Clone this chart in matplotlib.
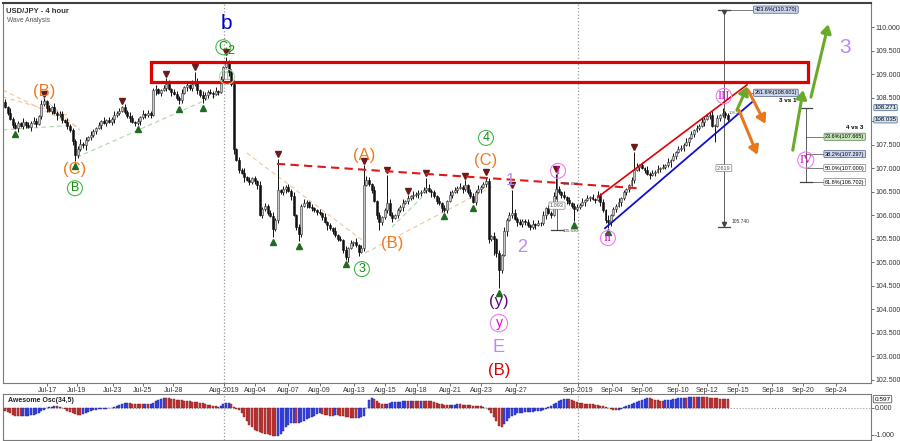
import numpy as np
import matplotlib
matplotlib.use('Agg')
import matplotlib.pyplot as plt
import matplotlib.transforms as mtransforms
from matplotlib.patches import Rectangle

plt.rcParams['font.family'] = ['Liberation Sans', 'DejaVu Sans']

# USD/JPY 4h closes, hundredths above 100.00 (830 -> 108.30)
closes_txt = """
830 818 805 792 786 795 790 798 792 788 796 800 794 810 836 842 828 822 830 818
812 815 802 798 790 780 758 728 740 752 748 760 766 770 778 785 792 800 796 802
798 805 812 818 822 830 820 810 806 798 795 800 808 815 812 818 813 865 868 860
866 870 878 868 862 858 850 845 860 872 876 870 878 885 866 855 848 856 862 860
858 864 862 890 915 926 905 878 740 717 696 690 680 675 670 678 672 664 600 612
620 605 598 570 590 653 648 655 660 652 640 600 575 560 620 625 627 618 614 610
606 604 595 585 578 572 565 557 550 547 525 510 530 540 542 536 522 530 664 674
665 653 630 600 585 595 610 625 600 594 600 610 618 626 630 636 640 642 645 647
650 653 658 652 648 640 630 625 615 610 630 643 650 653 658 660 655 664 650 640
628 650 655 660 665 672 550 555 548 520 483 515 565 590 600 604 592 585 581 588
585 578 574 580 579 583 582 600 615 605 600 640 655 648 643 638 632 625 620 612
618 622 628 632 636 638 634 632 643 628 610 590 585 600 612 620 628 636 648 655
664 675 696 702 706 700 695 688 685 690 692 697 700 703 706 712 717 725 734 740
743 750 755 764 772 780 786 790 798 805 810 813 790 790 806 812 818 812 804
"""
first_open = 108.40

# wick beyond the body, one digit per bar, units of 0.03
wick_up_txt = """
21312213121321321213 12213121231213212131 21312121321213121231
12131221312131213212 13121212312131212132 21231312121312132121
12131213121312131213 21312121321213121312 12131213121312131212
21312121312131213121 12131213121312131212 21312121312131213121
12131213121312131212 2131212131213121312
"""
wick_dn_txt = """
12121312213121213121 31212131212312121312 12312121312131212131
21213121213121312121 31212131212131212312 12131212313121213121
21213121212131213121 12131212131213121213 21213121312121213121
12131212131213121312 21213121312121213121 12131212131213121312
21213121312121213121 1213121213121312121
"""
spike_hi = {15: 108.47, 62: 108.91, 73: 109.04, 85: 109.36, 105: 107.20,
            138: 107.06, 147: 106.85, 162: 106.79, 177: 106.74, 185: 106.81,
            195: 106.53, 212: 106.87, 242: 107.34, 271: 108.20, 276: 108.28}
spike_lo = {27: 107.15, 67: 108.36, 76: 108.38, 88: 107.30, 103: 105.53,
            113: 105.45, 131: 105.05, 136: 105.19, 144: 105.68, 186: 105.40,
            188: 105.15, 190: 104.45, 219: 105.88, 232: 105.73, 273: 107.55}

# Awesome Oscillator(34,5), hundredths
ao_txt = """
-10 -15 -20 -25 -28 -30 -31 -30 -29 -28 -27 -25 -22 -18 -12 -6 0 3 5 6
6 4 0 -5 -10 -15 -19 -22 -25 -25 -23 -20 -16 -12 -9 -7 -5 -4 -3 -2
-1 0 3 7 11 15 18 19 18 16 15 15 14 14 15 15 16 20 26 31
35 37 37 36 34 32 30 29 28 27 26 25 24 23 22 20 18 15 12 10
8 6 5 8 13 18 19 15 5 -3 -8 -20 -35 -50 -62 -72 -80 -85 -89 -92
-95 -98 -100 -103 -105 -104 -98 -85 -72 -62 -56 -55 -56 -55 -52 -47 -42 -38 -34 -28
-24 -20 -22 -25 -27 -28 -28 -27 -27 -28 -29 -32 -35 -37 -38 -38 -37 -35 -30 0
30 37 33 25 18 15 14 16 19 21 22 23 24 25 26 26 27 27 26 26
27 27 26 26 25 23 20 16 13 11 10 10 11 12 13 13 12 12 11 10
9 8 8 6 3 0 -8 -20 -35 -50 -65 -70 -60 -48 -38 -30 -25 -20 -18 -17
-16 -15 -14 -13 -12 -11 -10 -8 -4 2 8 14 20 26 30 33 34 32 29 26
23 20 18 16 15 14 13 12 10 8 6 3 0 -3 -6 -8 -6 -3 2 6
10 14 18 22 26 30 34 37 36 33 30 28 27 27 28 29 30 32 34 36
37 38 38 39 40 40 40 41 41 40 39 38 37 36 36 35 35 34 34
"""

date_labels = ['Jul-17', 'Jul-19', 'Jul-23', 'Jul-25', 'Jul-28', 'Aug-2019', 'Aug-04',
               'Aug-07', 'Aug-09', 'Aug-13', 'Aug-15', 'Aug-18', 'Aug-21', 'Aug-23',
               'Aug-27', 'Sep-2019', 'Sep-04', 'Sep-06', 'Sep-10', 'Sep-12', 'Sep-15',
               'Sep-18', 'Sep-20', 'Sep-24']
date_pos = [16.2, 27.7, 41.5, 53.1, 64.8, 84.2, 96.2, 109.0, 121.0, 134.2, 146.2, 158.3,
            171.3, 183.1, 196.7, 220.4, 233.5, 245.0, 258.8, 270.0, 282.1, 295.2, 306.9, 319.8]
month_marks = ['Aug-2019', 'Sep-2019']

swing_hi_idx = [15, 45, 62, 73, 85, 105, 138, 147, 155, 162, 177, 185, 195, 212, 242]
swing_lo_idx = [4, 27, 51, 67, 76, 103, 113, 131, 169, 180, 190, 219, 232]

price_ticks = [102.5, 103.0, 103.5, 104.0, 104.5, 105.0, 105.5, 106.0, 106.5, 107.0,
               107.5, 108.0, 108.5, 109.0, 109.5, 110.0]
# the 108.000 label sits under the last-price tags
hidden_tick = 108.0

# ---- build bars
closes = 100 + np.array(closes_txt.split(), float) / 100
up_w = np.array([int(c) for c in ''.join(wick_up_txt.split())]) * 0.03
dn_w = np.array([int(c) for c in ''.join(wick_dn_txt.split())]) * 0.03
ao = np.array(ao_txt.split(), float) / 100
if not (len(closes) == len(up_w) == len(dn_w) == len(ao)):
    raise ValueError('lengths %d %d %d %d' % (len(closes), len(up_w), len(dn_w), len(ao)))
n = len(closes)
x = np.arange(n)
opens = np.r_[first_open, closes[:-1]]
highs = np.maximum(opens, closes) + up_w
lows = np.minimum(opens, closes) - dn_w
for k, v in spike_hi.items():
    highs[k] = max(highs[k], v)
for k, v in spike_lo.items():
    lows[k] = min(lows[k], v)

fig = plt.figure(figsize=(9, 4.41), dpi=100)
ax = fig.add_axes([0.0033, 0.1315, 0.9645, 0.8617])
ax2 = fig.add_axes([0.0033, 0.0023, 0.9645, 0.1043])

XL = (-0.77, 333.1)

# ---- candles
ax.vlines(x, lows, highs, color='#111111', lw=0.7, zorder=3)
rise = closes >= opens
body = np.abs(closes - opens)
body = np.where(body < 0.015, 0.015, body)
bot = np.minimum(opens, closes)
ax.bar(x[rise], body[rise], bottom=bot[rise], width=0.72, color='#c8c8c8',
       edgecolor='#333333', lw=0.4, zorder=4)
ax.bar(x[~rise], body[~rise], bottom=bot[~rise], width=0.72, color='#111111',
       edgecolor='#111111', lw=0.4, zorder=4)

# swing markers
ax.plot(x[swing_hi_idx], highs[swing_hi_idx] + 0.1, 'v', color='#6b1a1a', ms=4.5, zorder=5)
ax.plot(x[swing_lo_idx], lows[swing_lo_idx] - 0.1, '^', color='#1f6b1f', ms=4.5, zorder=5)

# faint wave guides
guides = [((-0.8, 108.66), (28.8, 107.85), '#f4c4a0'),
          ((-0.8, 108.51), (23.8, 108.13), '#f4c4a0'),
          ((14.6, 108.49), (28.8, 107.81), '#f4c4a0'),
          ((93, 107.32), (137.3, 105.47), '#f4c4a0'),
          ((138.5, 105.19), (187.3, 106.60), '#e8c8a0'),
          ((-0.8, 107.81), (25.8, 107.91), '#a8d8a8'),
          ((27.7, 107.23), (83.5, 108.60), '#a8d8a8'),
          ((148.8, 105.74), (160.4, 106.38), '#a8d8a8')]
for a, b, c in guides:
    ax.plot([a[0], b[0]], [a[1], b[1]], color=c, lw=0.8, ls=(0, (4, 3)), zorder=2)

# resistance zone and trendlines
ax.add_patch(Rectangle((56.2, 108.83), 252.6, 0.43, fill=False, ec='#e00000', lw=2.3, zorder=6))
ax.plot([104.6, 243.5], [107.09, 106.57], color='#e01818', lw=1.5, ls=(0, (4, 2.5)), zorder=6)
ax.plot([228, 285.4], [106.38, 108.77], color='#e00000', lw=1.2, zorder=6)
ax.plot([230.8, 287.3], [105.72, 108.40], color='#1010d0', lw=1.3, zorder=6)

# measuring tools
mc = '#444444'
ax.plot([276.5, 276.5], [105.74, 110.37], color=mc, lw=0.6, zorder=5)
for yy in (105.74, 110.37):
    ax.plot([274.2, 278.8], [yy, yy], color=mc, lw=0.9, zorder=5)
ax.plot(276.5, 110.31, 'v', color=mc, ms=3, zorder=5)
ax.plot(276.5, 105.80, 'v', color=mc, ms=3, zorder=5)
ax.plot([276.5, 288], [110.37, 110.37], color=mc, lw=0.5)
ax.plot([283, 288], [108.601, 108.601], color=mc, lw=0.5)
blue_box = dict(boxstyle='round,pad=0.2', fc='#cdd7ef', ec='#4a5a80', lw=0.5)
white_box = dict(boxstyle='round,pad=0.2', fc='white', ec='#808080', lw=0.5)
green_box = dict(boxstyle='round,pad=0.2', fc='#c6e8b8', ec='#5a8050', lw=0.5)
ax.text(296.5, 110.37, '423.6%(110.370)', fontsize=4, ha='center', va='center', bbox=blue_box, zorder=7)
ax.text(296.5, 108.601, '261.6%(108.601)', fontsize=4, ha='center', va='center', bbox=blue_box, zorder=7)
ax.text(276.5, 107.0, '2.619', fontsize=4, ha='center', va='center', color='#555555', bbox=white_box, zorder=7)
ax.text(279.5, 105.86, '105.740', fontsize=3.5, ha='left', va='center', color='#333333')
ax.text(278.5, 108.18, '108.271', fontsize=3, ha='left', va='center', color='#666666', zorder=7)

ax.plot([212.3, 212.3], [105.69, 106.88], color=mc, lw=0.6, zorder=5)
ax.plot([210, 214.6], [105.69, 105.69], color=mc, lw=0.9, zorder=5)
ax.text(214.3, 106.66, '106.883', fontsize=3.2, ha='left', va='center', color='#444444', zorder=7)
ax.text(214.5, 105.65, '105.690', fontsize=3.2, ha='left', va='center', color='#444444', zorder=7)
ax.text(212.3, 106.20, '1.093', fontsize=4, ha='center', va='center', color='#555555', bbox=white_box, zorder=7)

ax.plot([308.1, 308.1], [106.702, 108.271], color=mc, lw=0.6)
for yy in (106.702, 108.271):
    ax.plot([305.8, 310.4], [yy, yy], color=mc, lw=0.9)
fib_levels = [(107.665, '23.6%(107.665)', green_box), (107.297, '38.2%(107.297)', blue_box),
              (107.000, '50.0%(107.000)', white_box), (106.702, '61.8%(106.702)', white_box)]
for yy, s, bb in fib_levels:
    ax.plot([308.1, 314.6], [yy, yy], color=mc, lw=0.5)
    ax.text(323.0, yy, s, fontsize=4, ha='center', va='center', bbox=bb, zorder=7)
ax.text(301.0, 108.43, '3 vs 1', fontsize=4.5, fontweight='bold', ha='center', va='center')
ax.text(327.0, 107.87, '4 vs 3', fontsize=4.5, fontweight='bold', ha='center', va='center')

# projection arrows
arrows = [((281.5, 108.23), (285.6, 108.74), '#6aaa2a'),
          ((303.0, 107.38), (307.0, 108.66), '#6aaa2a'),
          ((310.0, 108.51), (316.7, 110.06), '#6aaa2a'),
          ((285.8, 108.66), (292.5, 107.94), '#e8781e'),
          ((282.3, 108.23), (289.4, 107.28), '#e8781e')]
for a, b, c in arrows:
    ax.annotate('', xy=b, xytext=a,
                arrowprops=dict(arrowstyle='-|>,head_length=0.5,head_width=0.3', color=c, lw=2.2,
                                shrinkA=0, shrinkB=0), zorder=8)

# wave labels
orange = '#f07a22'
green_t, green_c = '#158a15', '#46b846'
mag_t, mag_c = '#e000e0', '#f07af0'
lilac = '#b98cf5'


def circ(xx, yy, s, tc, ec, fs=9, fam=None):
    ax.text(xx, yy, s, color=tc, fontsize=fs, ha='center', va='center', family=fam,
            bbox=dict(boxstyle='circle,pad=0.12', fc='none', ec=ec, lw=0.8), zorder=9)


ax.text(85.0, 110.08, 'b', color='#0000dd', fontsize=15, ha='center', va='center', zorder=9)
circ(84.0, 109.57, 'C', green_t, green_c)
ax.text(86.8, 109.50, '2', color=green_t, fontsize=9, ha='center', va='center', zorder=9)
circ(85.4, 108.94, '1', '#7cc87c', '#a8dca8')
ax.text(15.0, 108.62, '(B)', color=orange, fontsize=12, ha='center', va='center', zorder=9)
ax.text(26.9, 106.96, '(C)', color=orange, fontsize=12, ha='center', va='center', zorder=9)
circ(26.9, 106.57, 'B', green_t, green_c)
ax.text(138.0, 107.26, '(A)', color=orange, fontsize=12, ha='center', va='center', zorder=9)
ax.text(148.8, 105.40, '(B)', color=orange, fontsize=12, ha='center', va='center', zorder=9)
circ(137.3, 104.85, '3', green_t, green_c)
circ(185.0, 107.64, '4', green_t, green_c)
ax.text(185.0, 107.15, '(C)', color=orange, fontsize=12, ha='center', va='center', zorder=9)
ax.text(194.2, 106.74, '1', color=lilac, fontsize=12, ha='center', va='center', zorder=9)
ax.text(198.8, 105.30, '2', color=lilac, fontsize=13, ha='center', va='center', zorder=9)
ax.text(190.0, 104.17, '(y)', color='#5a0a78', fontsize=12, ha='center', va='center', zorder=9)
circ(190.0, 103.70, 'y', mag_t, mag_c, fs=10)
ax.text(190.0, 103.19, 'E', color=lilac, fontsize=13, ha='center', va='center', zorder=9)
ax.text(190.0, 102.70, '(B)', color='#dd0000', fontsize=12, ha='center', va='center', zorder=9)
circ(212.7, 106.94, 'I', mag_t, mag_c, fam='Liberation Serif')
circ(231.9, 105.51, 'II', mag_t, mag_c, fam='Liberation Serif')
circ(276.5, 108.53, 'III', mag_t, mag_c, fs=9, fam='Liberation Serif')
circ(308.0, 107.17, 'IV', mag_t, mag_c, fs=9, fam='Liberation Serif')
ax.text(323.0, 109.57, '3', color=lilac, fontsize=15, ha='center', va='center', zorder=9)

# titles
ax.text(0.003, 0.988, 'USD/JPY - 4 hour', transform=ax.transAxes, fontsize=5.5,
        fontweight='bold', color='#333333', ha='left', va='top')
ax.text(0.005, 0.962, 'Wave Analysis', transform=ax.transAxes, fontsize=4.8,
        color='#555555', ha='left', va='top')

# axes styling
ax.set_xlim(*XL)
ax.set_ylim(102.426, 110.511)
ax.yaxis.tick_right()
ax.set_yticks(price_ticks)
ax.set_yticklabels(['' if v == hidden_tick else '%.3f' % v for v in price_ticks])
ax.set_xticks(date_pos)
ax.set_xticklabels(date_labels)
ax.tick_params(axis='both', labelsize=5, colors='#333333', length=2, width=0.5, pad=1)
for s in ax.spines.values():
    s.set_color('#7a7a7a')
    s.set_linewidth(0.8)
ax.spines['top'].set_color('#404040')
ax.spines['top'].set_linewidth(1.5)

tr = mtransforms.blended_transform_factory(ax.transAxes, ax.transData)
tag = dict(boxstyle='round,pad=0.1', fc='#d8e4f4', ec='#3a5a8a', lw=0.5)
ax.text(1.004, 108.285, '108.271', transform=tr, fontsize=4.4, ha='left', va='center', bbox=tag, clip_on=False)
ax.text(1.004, 108.025, '108.035', transform=tr, fontsize=4.4, ha='left', va='center', bbox=tag, clip_on=False)

# month separators
for lab in month_marks:
    xp = date_pos[date_labels.index(lab)]
    ax.axvline(xp, color='#9a9a9a', ls=':', lw=0.9, zorder=1)
    ax2.axvline(xp, color='#9a9a9a', ls=':', lw=0.9, zorder=1)

# ---- Awesome oscillator
prev = np.r_[ao[0] + 1, ao[:-1]]
cols = np.where(ao > prev, '#3a48f0', '#c83a3a')
edges = np.where(ao > prev, '#1a2090', '#7a1a1a')
ax2.axhline(0, color='#9a9a9a', ls=':', lw=0.8, zorder=1)
ax2.bar(x, ao, width=0.75, color=cols, edgecolor=edges, lw=0.3, zorder=3)
ax2.set_xlim(*XL)
ax2.set_ylim(-1.185, 0.519)
ax2.yaxis.tick_right()
ax2.set_yticks([0.0, -1.0])
ax2.set_yticklabels(['0.000', '-1.000'])
ax2.set_xticks([])
ax2.tick_params(axis='y', labelsize=5, colors='#333333', length=2, width=0.5, pad=1)
for s in ax2.spines.values():
    s.set_color('#7a7a7a')
    s.set_linewidth(0.8)
ax2.text(0.006, 0.86, 'Awesome Osc(34,5)', transform=ax2.transAxes, fontsize=5,
         fontweight='bold', color='#222222', ha='left', va='center')
tr2 = mtransforms.blended_transform_factory(ax2.transAxes, ax2.transData)
ax2.text(1.004, 0.33, '0.597', transform=tr2, fontsize=4.6, ha='left', va='center',
         bbox=dict(boxstyle='round,pad=0.2', fc='white', ec='#3a3a3a', lw=0.5), clip_on=False)

fig.savefig('out.png', dpi=100)
